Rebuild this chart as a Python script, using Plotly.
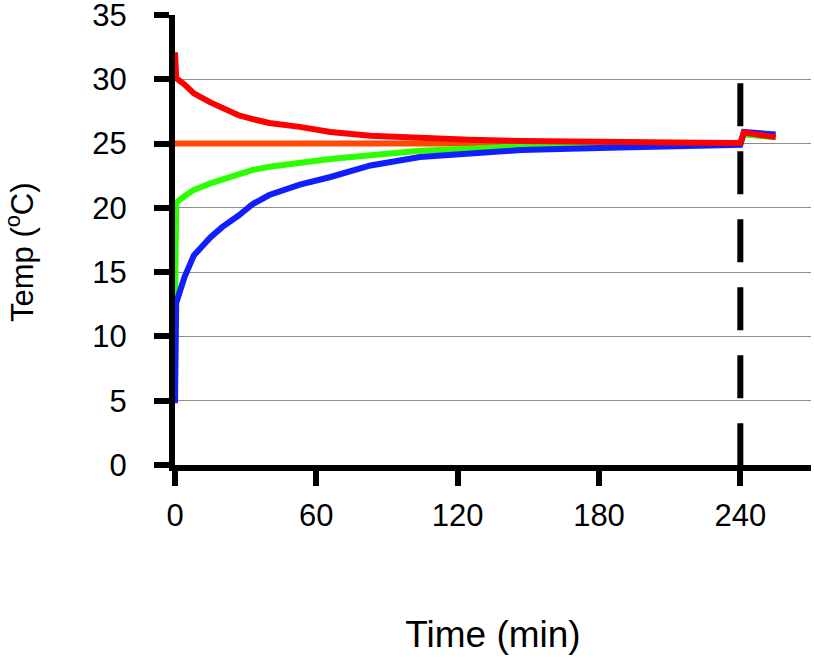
import plotly.graph_objects as go

# time points (min) shared by the three measured series
time_min = [0, 0.5, 4, 8, 15, 20, 27, 33, 40, 53, 66, 83, 104, 125, 147, 180, 223, 240, 241.5, 255]

temp_red = [32.1, 30.1, 29.6, 28.9, 28.2, 27.8, 27.2, 26.9, 26.6, 26.3, 25.9, 25.6, 25.4, 25.3, 25.2,
            25.1, 25.07, 25.05, 25.85, 25.5]
temp_green = [12.5, 20.4, 20.9, 21.4, 21.9, 22.2, 22.65, 22.95, 23.2, 23.55, 23.8, 24.1, 24.45, 24.6, 24.8,
              24.9, 24.97, 25.0, 25.7, 25.5]
temp_blue = [4.8, 12.6, 14.6, 16.3, 17.7, 18.5, 19.4, 20.3, 21.0, 21.8, 22.4, 23.3, 23.95, 24.25, 24.5,
             24.65, 24.8, 24.9, 25.9, 25.7]

# set point line
setpoint_time = [0, 240]
setpoint_temp = [25, 25]

# vertical dashed marker
marker_time = [240, 240]
marker_temp = [29.7, 0]

x_ticks = [0, 60, 120, 180, 240]

font = "Liberation Sans, Arial, sans-serif"

fig = go.Figure()
fig.add_trace(go.Scatter(x=setpoint_time, y=setpoint_temp, mode="lines",
                         line=dict(color="#ff4a00", width=6)))
fig.add_trace(go.Scatter(x=time_min, y=temp_green, mode="lines",
                         line=dict(color="#2bff00", width=6)))
fig.add_trace(go.Scatter(x=time_min, y=temp_blue, mode="lines",
                         line=dict(color="#0f1fff", width=6)))
fig.add_trace(go.Scatter(x=time_min, y=temp_red, mode="lines",
                         line=dict(color="#ff0000", width=6)))
fig.add_trace(go.Scatter(x=marker_time, y=marker_temp, mode="lines",
                         line=dict(color="black", width=6, dash="43px,25px")))

fig.update_layout(
    width=814, height=663,
    margin=dict(l=175, r=3, t=15, b=198),
    plot_bgcolor="white", paper_bgcolor="white",
    showlegend=False,
    font=dict(family=font, size=31, color="black"),
    xaxis=dict(range=[0, 270], tickvals=x_ticks, ticks="outside", ticklen=15, tickwidth=6,
               tickcolor="black", showline=True, linewidth=6, linecolor="black",
               showgrid=False, zeroline=False, ticklabelstandoff=3, automargin=False,
               title=dict(text="Time (min)", standoff=91)),
    yaxis=dict(range=[0, 35], dtick=5, ticks="outside", ticklen=15, tickwidth=6,
               tickcolor="black", showline=True, linewidth=6, linecolor="black",
               showgrid=True, gridcolor="#8c8c8c", gridwidth=1, zeroline=False,
               ticklabelstandoff=21, automargin=False, ticklabeloverflow="allow"),
    annotations=[dict(text="Temp (<sup>o</sup>C)", textangle=-90, xref="paper", yref="paper",
                      x=-0.244, y=0.473, xanchor="center", yanchor="middle",
                      showarrow=False, font=dict(size=31))],
)

# drop the default page margin so the figure sits at the top-left of the window
fig.write_html("out.html", config={"displayModeBar": False},
               post_script="document.body.style.margin='0';")
